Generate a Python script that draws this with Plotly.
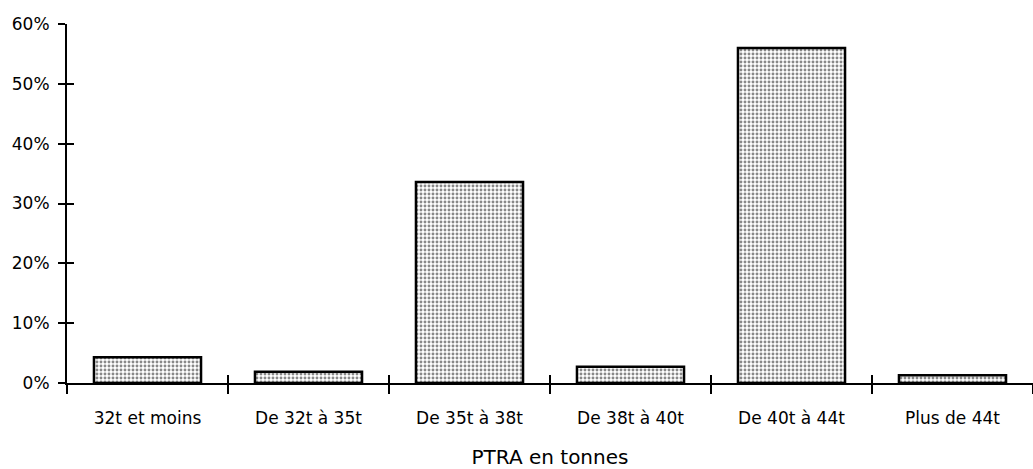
import plotly.graph_objects as go

categories = ["32t et moins", "De 32t à 35t", "De 35t à 38t", "De 38t à 40t", "De 40t à 44t", "Plus de 44t"]
shares = [4.3, 1.9, 33.6, 2.7, 56.0, 1.3]
y_ticks = [0, 10, 20, 30, 40, 50, 60]
y_ticktext = [f"{v}%" for v in y_ticks]
x_title = "PTRA en tonnes"

FONT = "DejaVu Sans"
n = len(categories)

fig = go.Figure()
fig.add_trace(go.Bar(
    x=categories, y=shares,
    marker=dict(
        color="white",
        line=dict(color="black", width=2.5),
        pattern=dict(shape=".", size=4, solidity=0.42, fgcolor="#111111", bgcolor="white"),
    ),
    hoverinfo="skip",
    showlegend=False,
))
# invisible trace to carry overlay axes (inner half of crossing ticks)
fig.add_trace(go.Scatter(x=[None], y=[None], xaxis="x2", yaxis="y2",
                         showlegend=False, hoverinfo="skip"))

fig.update_layout(
    width=1033, height=469,
    margin=dict(l=67, r=0, t=24, b=86),
    paper_bgcolor="white", plot_bgcolor="white",
    bargap=0.335,
    font=dict(family=FONT, color="black", size=17),
    xaxis=dict(
        type="category", categoryorder="array", categoryarray=categories,
        range=[-0.5, n - 0.5],
        showline=True, linecolor="black", linewidth=2,
        showgrid=False, zeroline=False,
        tickson="boundaries", ticks="outside", ticklen=9, tickwidth=2, tickcolor="black",
        tickfont=dict(family=FONT, size=17, color="black"),
        ticklabelstandoff=19,
        title=dict(text=x_title, font=dict(family=FONT, size=20, color="black"), standoff=24),
        automargin=False,
    ),
    xaxis2=dict(
        overlaying="x", anchor="y", range=[-0.5, n - 0.5],
        tickvals=[i - 0.5 for i in range(n + 1)],
        ticks="inside", ticklen=8, tickwidth=2, tickcolor="black",
        showticklabels=False, showline=False, showgrid=False, zeroline=False,
    ),
    yaxis=dict(
        range=[0, 60], tickvals=y_ticks, ticktext=y_ticktext,
        showline=True, linecolor="black", linewidth=2,
        showgrid=False, zeroline=False,
        ticks="outside", ticklen=7, tickwidth=2, tickcolor="black",
        tickfont=dict(family=FONT, size=17, color="black"),
        ticklabelstandoff=5,
        automargin=False,
    ),
    yaxis2=dict(
        overlaying="y", anchor="x", range=[0, 60], tickvals=y_ticks,
        ticks="inside", ticklen=7, tickwidth=2, tickcolor="black",
        showticklabels=False, showline=False, showgrid=False, zeroline=False,
    ),
)

fig.write_html("out.html", config={"displayModeBar": False},
               post_script="document.body.style.margin='0';document.body.style.overflow='hidden';")
